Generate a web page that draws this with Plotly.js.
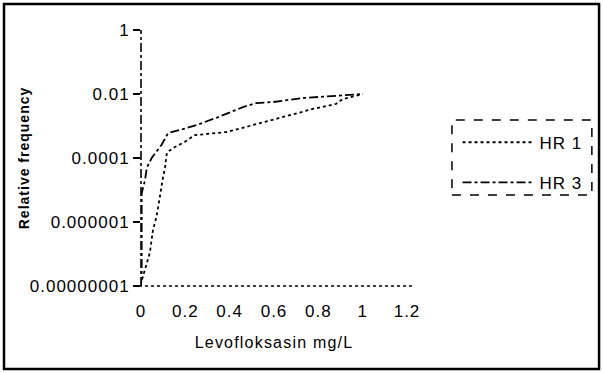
<!DOCTYPE html>
<html><head><meta charset="utf-8">
<script src="https://cdn.plot.ly/plotly-3.0.1.min.js"></script>
<style>
html,body{margin:0;padding:0;background:#fff}
#chart{width:603px;height:373px}
#chart text{letter-spacing:1px}
#chart .xtitle{letter-spacing:1.2px}
</style>
</head><body><div id="chart"></div>
<script>
// Series
const hr1X = [0.005, 0.026, 0.04, 0.054, 0.068, 0.077, 0.089, 0.098, 0.108, 0.117, 0.153, 0.198, 0.243, 0.386, 0.505, 0.61, 0.775, 0.88, 0.91, 1.0];
const hr1Y = [1.6e-8, 5.6e-8, 1.1e-7, 5.6e-7, 1.3e-6, 2.8e-6, 1e-5, 2.2e-5, 4.9e-5, 1.5e-4, 2.2e-4, 3.2e-4, 5.2e-4, 6.5e-4, 1.07e-3, 1.66e-3, 3.4e-3, 4.9e-3, 6.9e-3, 1e-2];
const hr3X = [0, 0.003, 0.003, 0.018, 0.026, 0.048, 0.093, 0.122, 0.176, 0.25, 0.34, 0.40, 0.46, 0.52, 0.595, 0.73, 0.865, 1.0];
const hr3Y = [1e-8, 2.5e-8, 7.9e-6, 2.0e-5, 4.9e-5, 1e-4, 2.6e-4, 6.0e-4, 7.5e-4, 1.07e-3, 1.8e-3, 2.6e-3, 3.9e-3, 5.2e-3, 5.6e-3, 7.5e-3, 8.7e-3, 1e-2];
const seriesNames = ["HR 1", "HR 3"];
const yTickVals = [1, 0.01, 0.0001, 0.000001, 0.00000001];
const yTickText = ["1", "0.01", "0.0001", "0.000001", "0.00000001"];
const xTickVals = [0, 0.2, 0.4, 0.6, 0.8, 1, 1.2];
const xTickText = ["0", "0.2", "0.4", "0.6", "0.8", "1", "1.2"];
const xTitle = "Levofloksasin mg/L";
const yTitle = "Relative frequency";

const F = "Liberation Sans, Arial, Helvetica, sans-serif";
const traces = [
  {x: hr1X, y: hr1Y, name: seriesNames[0], mode: "lines", legendgroup: "a",
   line: {color: "#000", width: 1.8, dash: "dot"}},
  {x: hr3X, y: hr3Y, name: seriesNames[1], mode: "lines", legendgroup: "b",
   line: {color: "#000", width: 1.8, dash: "dashdot"}}
];
const layout = {
  width: 603, height: 373,
  margin: {l: 141, r: 196, t: 30, b: 87},
  paper_bgcolor: "#fff", plot_bgcolor: "#fff",
  font: {family: F, size: 17, color: "#000"},
  showlegend: true,
  legend: {x: 1.19, y: 0.63, xanchor: "left", yanchor: "top", bgcolor: "rgba(0,0,0,0)",
           borderwidth: 0, itemwidth: 72, tracegroupgap: 15, traceorder: "grouped",
           font: {family: F, size: 17, color: "#000"}},
  xaxis: {range: [0, 1.2], tickvals: xTickVals, ticktext: xTickText, showgrid: false, zeroline: false,
          showline: false, ticks: "", ticklabelstandoff: 13, tickfont: {family: F, size: 17},
          title: {text: xTitle, font: {family: F, size: 16}, standoff: 16}},
  yaxis: {type: "log", range: [-8, 0], tickvals: yTickVals, ticktext: yTickText, showgrid: false,
          zeroline: false, showline: false, ticks: "outside", ticklen: 7, tickwidth: 1.5, tickcolor: "#000",
          tickfont: {family: F, size: 17},
          title: {text: yTitle, font: {family: F, size: 14, weight: "bold"}, standoff: 6}},
  shapes: [
    {type: "line", xref: "paper", yref: "paper", x0: 0, x1: 0, y0: 0, y1: 1,
     line: {color: "#000", width: 1.6, dash: "dashdot"}},
    {type: "line", xref: "paper", yref: "paper", x0: -0.03, x1: 1.02, y0: 0, y1: 0,
     line: {color: "#000", width: 1.6, dash: "dot"}},
    {type: "rect", xref: "paper", yref: "paper", x0: 1.169, x1: 1.695, y0: 0.355, y1: 0.648,
     line: {color: "#000", width: 1.5, dash: "dash"}},
    {type: "rect", xref: "paper", yref: "paper", x0: -0.515, x1: 1.722, y0: -0.324, y1: 1.102,
     line: {color: "#000", width: 2.5}}
  ]
};
Plotly.newPlot("chart", traces, layout, {staticPlot: true, displayModeBar: false});
</script></body></html>
